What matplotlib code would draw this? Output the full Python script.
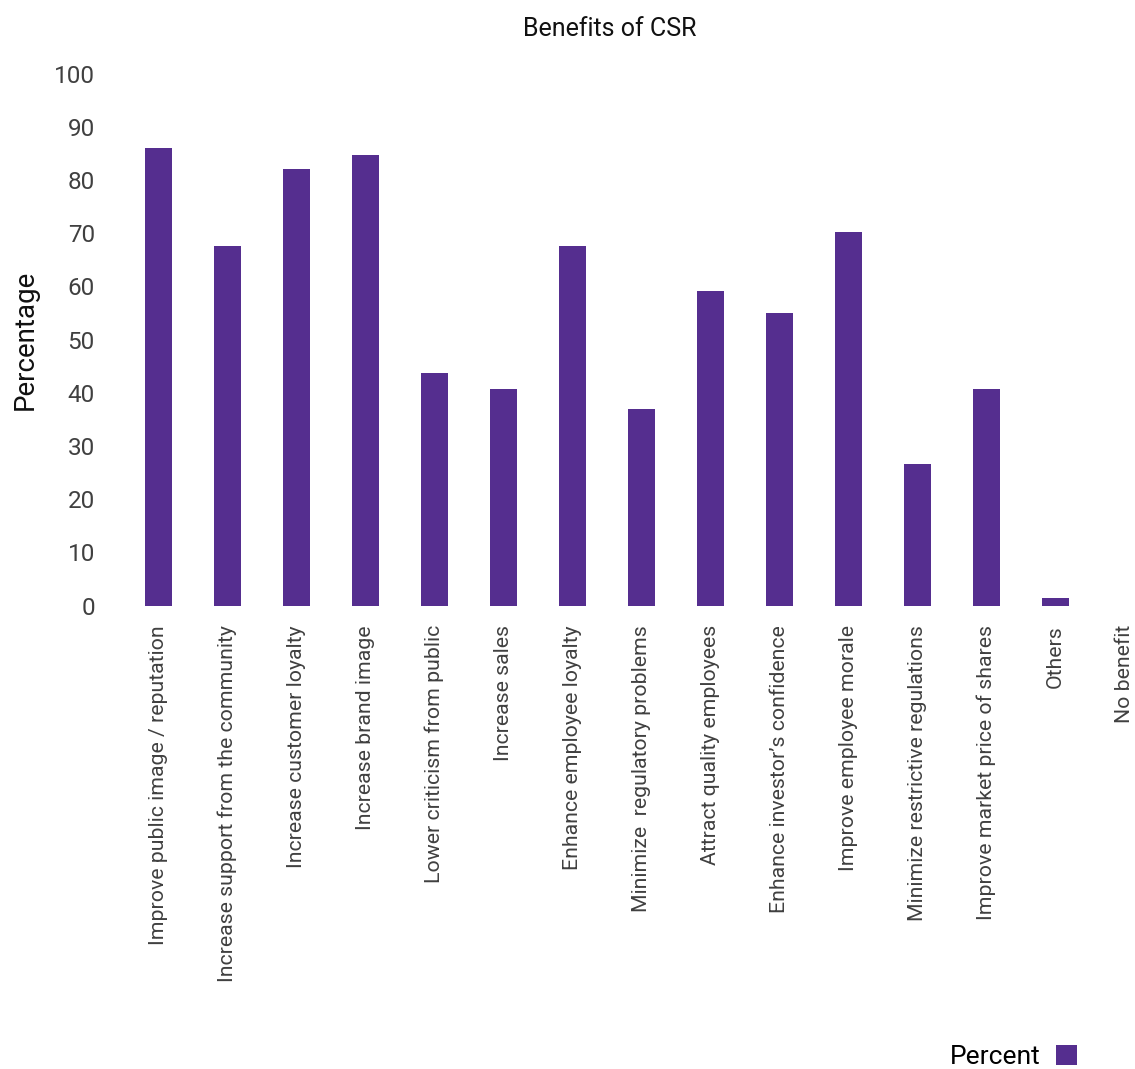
import matplotlib.pyplot as plt
from matplotlib import font_manager

# pick a condensed font if one is installed
names = {f.name for f in font_manager.fontManager.ttflist}
fam = 'Liberation Sans Narrow' if 'Liberation Sans Narrow' in names else 'Roboto'
plt.rcParams['font.family'] = [fam, 'DejaVu Sans']

categories = [
    "Improve public image / reputation",
    "Increase support from the community",
    "Increase customer loyalty",
    "Increase brand image",
    "Lower criticism from public",
    "Increase sales",
    "Enhance employee loyalty",
    "Minimize  regulatory problems",
    "Attract quality employees",
    "Enhance investor\u2019s confidence",
    "Improve employee morale",
    "Minimize restrictive regulations",
    "Improve market price of shares",
    "Others",
    "No benefit",
]
percent = [86, 67.7, 82, 84.7, 43.7, 40.8, 67.6, 36.9, 59.1, 55, 70.2, 26.7, 40.8, 1.5, 0]

purple = '#552e8f'
grey = '#404040'

fig = plt.figure(figsize=(11.35, 10.69), dpi=100)
ax = fig.add_axes([0.1093, 0.4334, 0.8907, 0.4977])

x = list(range(len(categories)))
ax.bar(x, percent, width=0.4, color=purple, label='Percent')

ax.set_ylim(0, 100)
ax.set_xlim(-0.5, 14.15)
ax.set_yticks(range(0, 101, 10))
ax.set_xticks(x)
ax.set_xticklabels(categories, rotation=90, fontsize=15.3, color=grey)
ax.tick_params(axis='y', labelsize=17.5, labelcolor=grey, length=0, pad=21)
ax.tick_params(axis='x', length=0, pad=14)
for s in ax.spines.values():
    s.set_visible(False)

fig.text(0.022, 0.682, 'Percentage', rotation=90, ha='center', va='center', fontsize=20, color='#111111')
fig.text(0.537, 0.973, 'Benefits of CSR', ha='center', va='center', fontsize=18, color='#111111')

fig.legend(loc='lower right', bbox_to_anchor=(0.970, -0.0225), frameon=False, markerfirst=False,
           fontsize=19, handlelength=0.8, handleheight=0.8, handletextpad=0.6)

fig.savefig('out.png', dpi=100)
